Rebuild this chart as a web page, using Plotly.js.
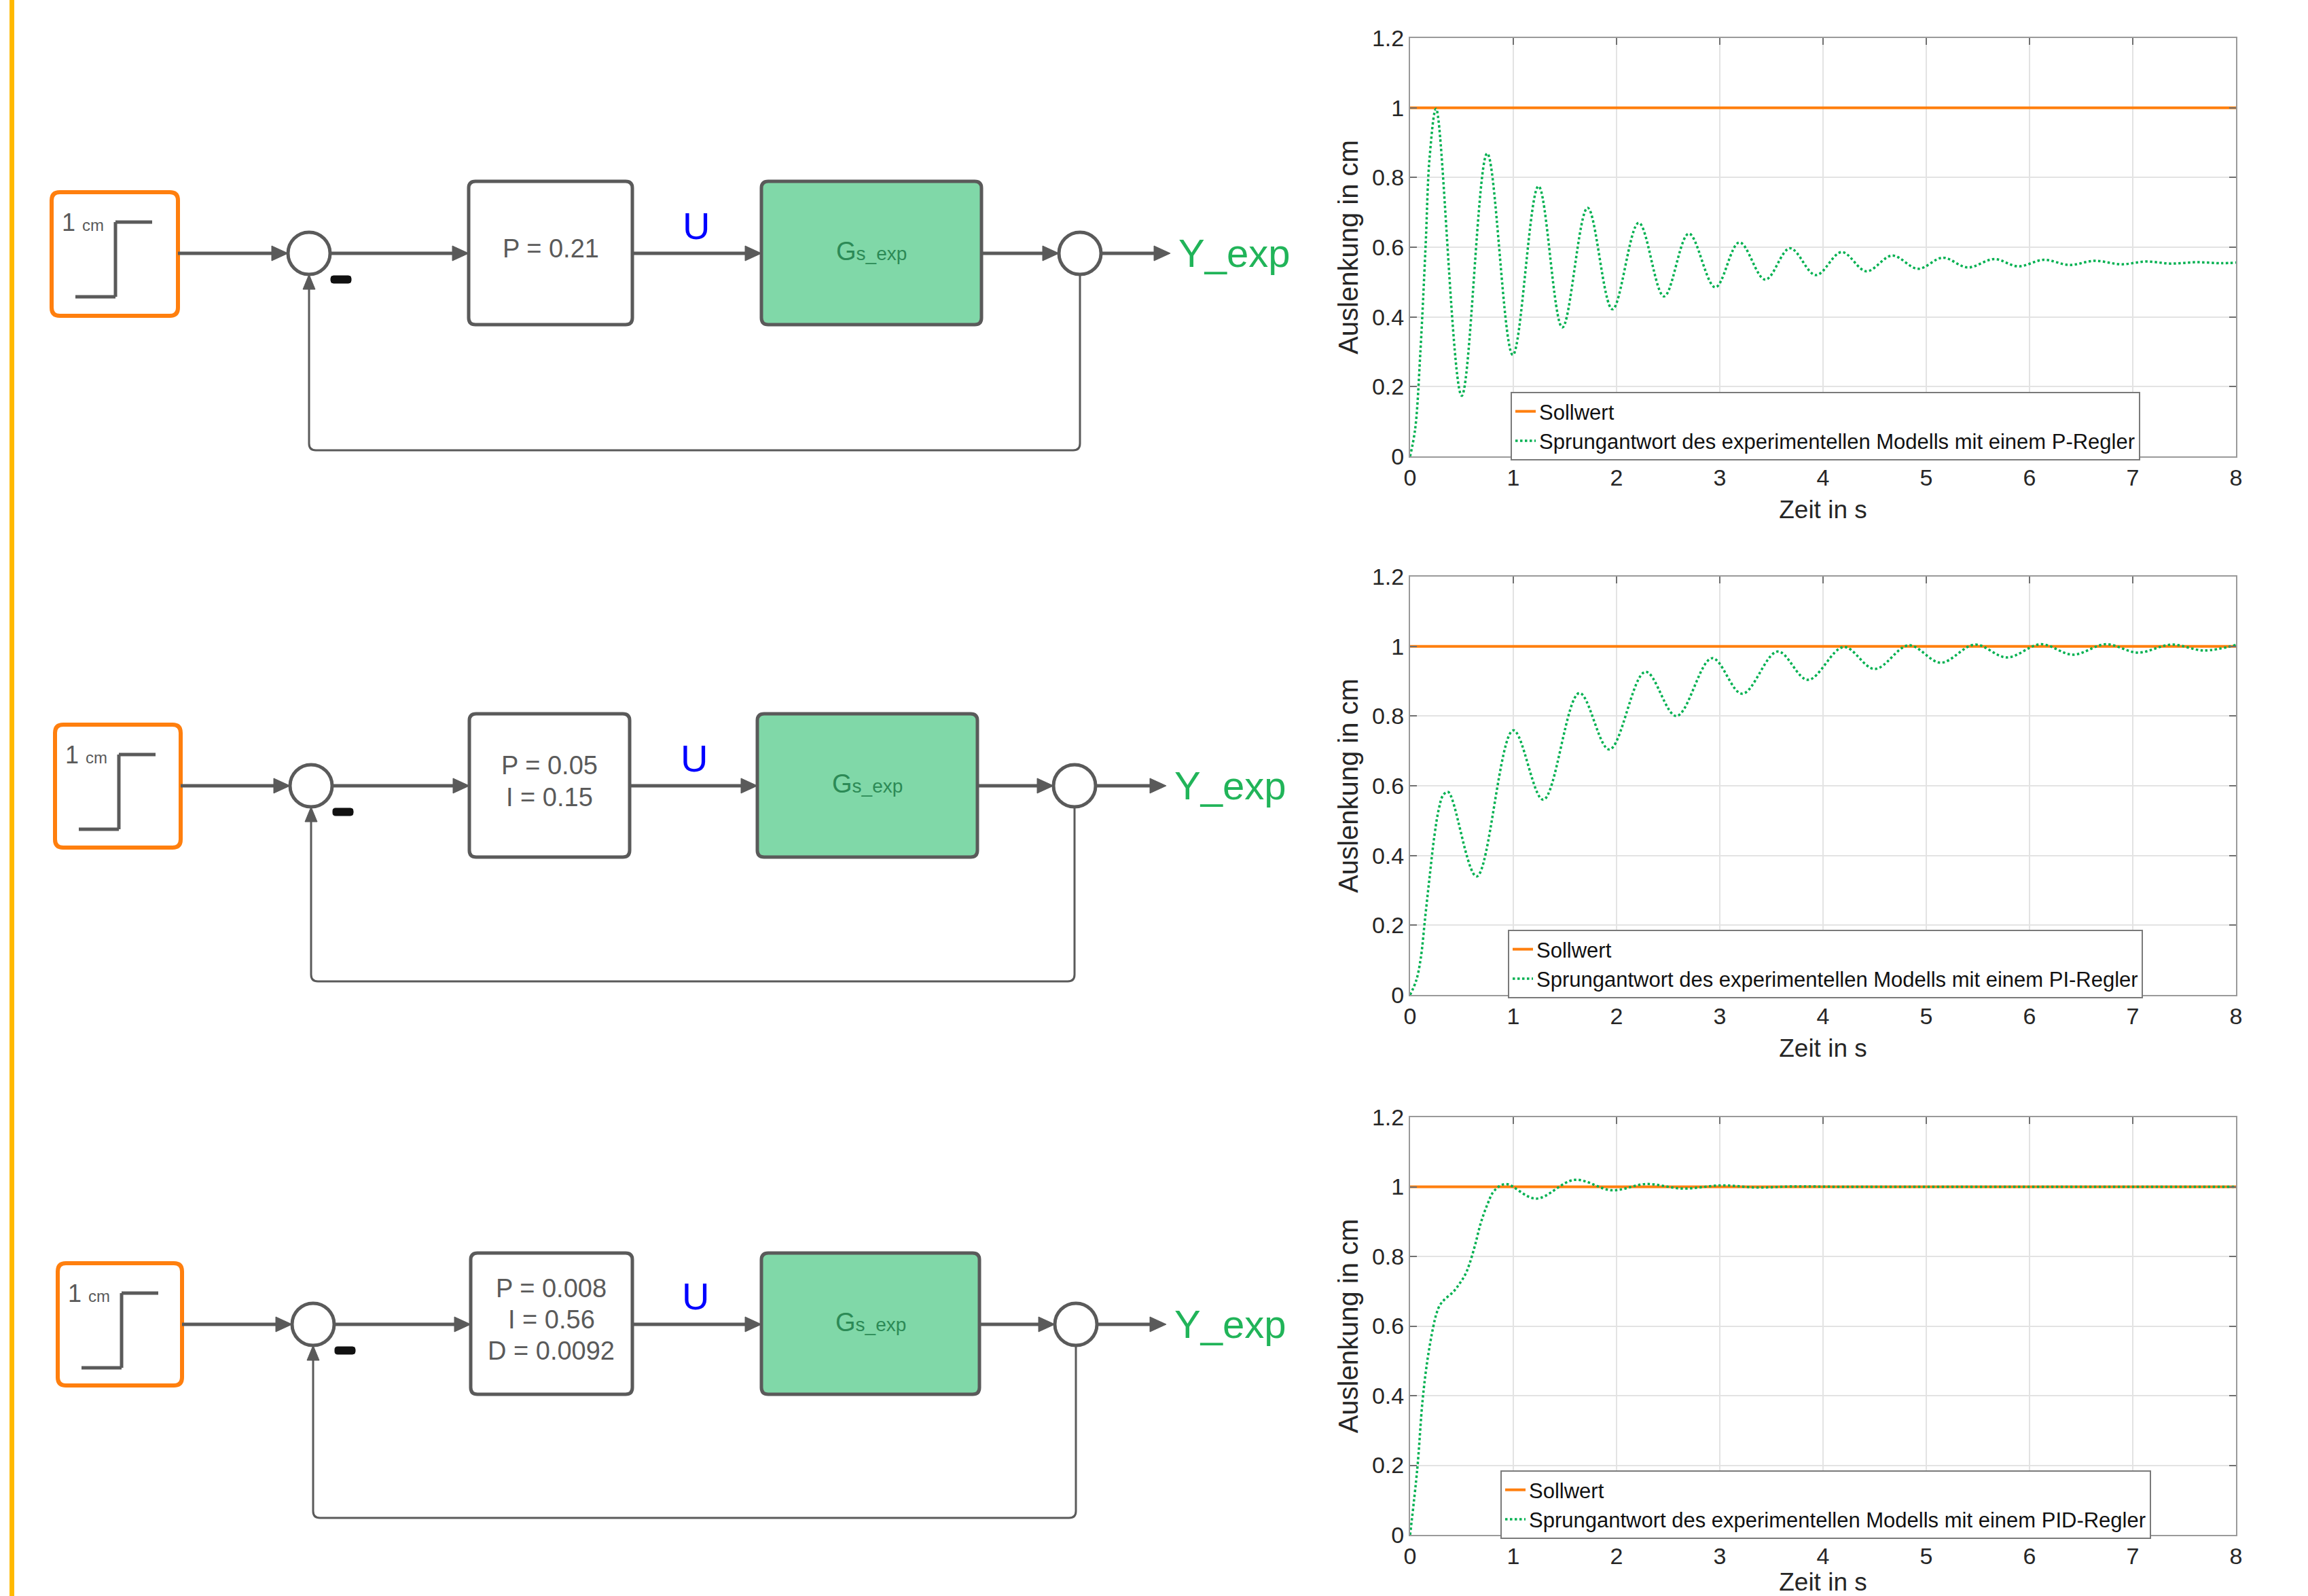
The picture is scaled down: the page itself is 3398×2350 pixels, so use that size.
<!DOCTYPE html>
<html>
<head>
<meta charset="utf-8">
<script src="https://cdn.plot.ly/plotly-3.0.1.min.js"></script>
<style>html,body{margin:0;padding:0;background:#fff;}#chart{width:3398px;height:2350px;}</style>
</head>
<body>
<div id="chart"></div>
<script>
// ---------------- DATA ----------------
const SOLL_T = [0, 8];
const SOLL_Y = [1, 1];

// P-Regler response
const P_T = [0, 0.05, 0.1, 0.15, 0.19, 0.252, 0.50, 0.747, 0.995, 1.244, 1.475, 1.72, 1.96, 2.215, 2.46, 2.70, 2.956, 3.19, 3.44, 3.68, 3.93, 4.18, 4.42, 4.67, 4.92, 5.16, 5.40, 5.66, 5.89, 6.14, 6.385, 6.63, 6.89, 7.13, 7.37, 7.62, 7.86, 8.0];
const P_Y = [0, 0.08, 0.30, 0.60, 0.86, 0.997, 0.174, 0.869, 0.291, 0.775, 0.370, 0.713, 0.422, 0.670, 0.459, 0.639, 0.485, 0.614, 0.507, 0.597, 0.520, 0.586, 0.531, 0.576, 0.538, 0.570, 0.542, 0.566, 0.545, 0.564, 0.549, 0.561, 0.551, 0.559, 0.553, 0.557, 0.554, 0.556];

// PI-Regler response
const PI_T = [0, 0.059, 0.103, 0.147, 0.191, 0.235, 0.279, 0.322, 0.37, 0.645, 1.0, 1.29, 1.64, 1.93, 2.28, 2.58, 2.925, 3.217, 3.56, 3.854, 4.20, 4.50, 4.83, 5.14, 5.47, 5.78, 6.11, 6.42, 6.74, 7.05, 7.375, 7.69, 8.0];
const PI_Y = [0, 0.041, 0.104, 0.224, 0.343, 0.455, 0.534, 0.574, 0.582, 0.340, 0.759, 0.560, 0.866, 0.704, 0.927, 0.800, 0.966, 0.864, 0.985, 0.904, 0.998, 0.935, 1.003, 0.953, 1.005, 0.968, 1.006, 0.976, 1.006, 0.982, 1.005, 0.988, 1.004];

// PID-Regler response
const PID_T = [0, 0.07, 0.121, 0.169, 0.224, 0.257, 0.289, 0.333, 0.421, 0.482, 0.531, 0.575, 0.629, 0.684, 0.75, 0.816, 0.925, 1.22, 1.594, 1.956, 2.285, 2.64, 3.02, 3.36, 3.70, 4.2, 5, 6, 7, 8];
const PID_Y = [0, 0.19, 0.386, 0.504, 0.597, 0.637, 0.660, 0.676, 0.699, 0.723, 0.746, 0.778, 0.832, 0.895, 0.950, 0.989, 1.008, 0.966, 1.020, 0.990, 1.008, 0.995, 1.004, 0.998, 1.001, 1.0, 1.0, 1.0, 1.0, 1.0];

const LEGEND_SOLL = 'Sollwert';
const LEGEND_RESP = ['Sprungantwort des experimentellen Modells mit einem P-Regler',
                     'Sprungantwort des experimentellen Modells mit einem PI-Regler',
                     'Sprungantwort des experimentellen Modells mit einem PID-Regler'];
const CTRL_LABELS = [['P = 0.21'], ['P = 0.05', 'I = 0.15'], ['P = 0.008', 'I = 0.56', 'D = 0.0092']];
const X_TITLE = 'Zeit in s';
const Y_TITLE = 'Auslenkung in cm';

// ---------------- LAYOUT HELPERS ----------------
const W = 3398, H = 2350;
const X = x => +(x / W).toFixed(6);
const Y = y => +(1 - y / H).toFixed(6);
const FONT = 'Liberation Sans, Arial, Helvetica, sans-serif';
const GRAY = '#5a5a5a';
const ORANGE = '#FF7F0E';
const GREEN_LINE = '#00B050';

const shapes = [];
const annotations = [];

function line(x0, y0, x1, y1, w, c) {
  shapes.push({type: 'line', xref: 'paper', yref: 'paper', x0: X(x0), y0: Y(y0), x1: X(x1), y1: Y(y1),
               line: {color: c || GRAY, width: w || 5}});
}
function rrect(x0, y0, x1, y1, r, fill, stroke, sw) {
  const p = `M ${X(x0 + r)} ${Y(y0)} L ${X(x1 - r)} ${Y(y0)} Q ${X(x1)} ${Y(y0)} ${X(x1)} ${Y(y0 + r)} ` +
            `L ${X(x1)} ${Y(y1 - r)} Q ${X(x1)} ${Y(y1)} ${X(x1 - r)} ${Y(y1)} ` +
            `L ${X(x0 + r)} ${Y(y1)} Q ${X(x0)} ${Y(y1)} ${X(x0)} ${Y(y1 - r)} ` +
            `L ${X(x0)} ${Y(y0 + r)} Q ${X(x0)} ${Y(y0)} ${X(x0 + r)} ${Y(y0)} Z`;
  shapes.push({type: 'path', xref: 'paper', yref: 'paper', path: p, fillcolor: fill,
               line: {color: stroke, width: sw}});
}
function arrowRight(xt, y, len, hw) {
  const p = `M ${X(xt)} ${Y(y)} L ${X(xt - len)} ${Y(y - hw)} L ${X(xt - len)} ${Y(y + hw)} Z`;
  shapes.push({type: 'path', xref: 'paper', yref: 'paper', path: p, fillcolor: GRAY, line: {color: GRAY, width: 1}});
}
function arrowUp(x, yt, len, hw) {
  const p = `M ${X(x)} ${Y(yt)} L ${X(x - hw)} ${Y(yt + len)} L ${X(x + hw)} ${Y(yt + len)} Z`;
  shapes.push({type: 'path', xref: 'paper', yref: 'paper', path: p, fillcolor: GRAY, line: {color: GRAY, width: 1}});
}
function circle(cx, cy, r) {
  shapes.push({type: 'circle', xref: 'paper', yref: 'paper', x0: X(cx - r), x1: X(cx + r), y0: Y(cy + r), y1: Y(cy - r),
               fillcolor: '#ffffff', line: {color: GRAY, width: 5}});
}
function text(x, y, t, size, color, xanchor) {
  annotations.push({xref: 'paper', yref: 'paper', x: X(x), y: Y(y), text: t, showarrow: false,
                    xanchor: xanchor || 'center', yanchor: 'middle',
                    font: {family: FONT, size: size, color: color}});
}

// gold bar on the left
shapes.push({type: 'rect', xref: 'paper', yref: 'paper', x0: X(14), x1: X(21), y0: 0, y1: 1,
             fillcolor: '#FFB900', line: {width: 0}});

// ---------------- BLOCK DIAGRAMS ----------------
const ROWS = [
  {yc: 373,  o: [76, 262, 283, 465],   c1: 455, P: [690, 931, 267, 478],   G: [1121, 1445, 267, 478],   c2: 1590, fb: 663,  Ux: 1025, Uy: 332,  Yx: 1733},
  {yc: 1157, o: [81, 266, 1067, 1248], c1: 458, P: [691, 927, 1051, 1262], G: [1115, 1439, 1051, 1262], c2: 1582, fb: 1445, Ux: 1022, Uy: 1117, Yx: 1727},
  {yc: 1950, o: [85, 268, 1860, 2040], c1: 461, P: [693, 931, 1845, 2053], G: [1121, 1442, 1845, 2053], c2: 1584, fb: 2235, Ux: 1024, Uy: 1909, Yx: 1727}
];
const R = 31;

ROWS.forEach((rw, i) => {
  const yc = rw.yc;
  // step source box
  rrect(rw.o[0], rw.o[2], rw.o[1], rw.o[3], 12, 'rgba(255,255,255,0)', ORANGE, 6);
  const ox = rw.o[0];
  const oy = rw.o[2];
  line(ox + 35, oy + 154, ox + 94, oy + 154, 5);
  line(ox + 94, oy + 154, ox + 94, oy + 44, 5);
  line(ox + 94, oy + 44, ox + 148, oy + 44, 5);
  annotations.push({xref: 'paper', yref: 'paper', x: X(ox + 13), y: Y(oy + 44), xanchor: 'left', yanchor: 'middle',
                    showarrow: false, text: '1 <span style="font-size:24px">cm</span>',
                    font: {family: FONT, size: 36, color: GRAY}});

  // source -> summing junction
  line(rw.o[1], yc, rw.c1 - R - 20, yc, 5);
  arrowRight(rw.c1 - R, yc, 24, 11);
  circle(rw.c1, yc, R);
  // minus sign
  rrect(rw.c1 + 32, yc + 33, rw.c1 + 62, yc + 44, 4, '#111111', '#111111', 1);

  // junction -> controller
  line(rw.c1 + R, yc, rw.P[0] - 20, yc, 5);
  arrowRight(rw.P[0], yc, 24, 11);
  rrect(rw.P[0], rw.P[2], rw.P[1], rw.P[3], 10, '#ffffff', GRAY, 5);
  const lab = CTRL_LABELS[i];
  const pc = (rw.P[0] + rw.P[1]) / 2;
  const pm = (rw.P[2] + rw.P[3]) / 2 - 6;
  lab.forEach((t, k) => {
    text(pc, pm + (k - (lab.length - 1) / 2) * 46, t, 38, GRAY);
  });

  // controller -> plant
  line(rw.P[1], yc, rw.G[0] - 20, yc, 5);
  arrowRight(rw.G[0], yc, 24, 11);
  text(rw.Ux, rw.Uy, 'U', 56, '#0000FF');
  rrect(rw.G[0], rw.G[2], rw.G[1], rw.G[3], 10, '#80D8A8', GRAY, 5);
  annotations.push({xref: 'paper', yref: 'paper', x: X((rw.G[0] + rw.G[1]) / 2), y: Y(yc - 3), xanchor: 'center', yanchor: 'middle',
                    showarrow: false, text: 'G<span style="font-size:28px">s_exp</span>',
                    font: {family: FONT, size: 38, color: '#2C8A56'}});

  // plant -> output junction
  line(rw.G[1], yc, rw.c2 - R - 20, yc, 5);
  arrowRight(rw.c2 - R, yc, 24, 11);
  circle(rw.c2, yc, R);
  line(rw.c2 + R, yc, rw.Yx - 30, yc, 5);
  arrowRight(rw.Yx - 10, yc, 24, 11);
  text(rw.Yx, yc, 'Y_exp', 58, '#21B459', 'left');

  // feedback path
  const rr = 10;
  const p = `M ${X(rw.c2)} ${Y(yc + R)} L ${X(rw.c2)} ${Y(rw.fb - rr)} Q ${X(rw.c2)} ${Y(rw.fb)} ${X(rw.c2 - rr)} ${Y(rw.fb)} ` +
            `L ${X(rw.c1 + rr)} ${Y(rw.fb)} Q ${X(rw.c1)} ${Y(rw.fb)} ${X(rw.c1)} ${Y(rw.fb - rr)} L ${X(rw.c1)} ${Y(yc + R + 18)}`;
  shapes.push({type: 'path', xref: 'paper', yref: 'paper', path: p, line: {color: GRAY, width: 3}});
  arrowUp(rw.c1, yc + R, 22, 9);
});

// ---------------- PLOTS ----------------
const XDOM = [X(2076), X(3292)];
const PLOT_Y = [[56, 672], [849, 1465], [1645, 2260]];
const RESP_T = [P_T, PI_T, PID_T];
const RESP_Y = [P_Y, PI_Y, PID_Y];
const LEG_POS = [[2224, 577], [2220, 1369], [2209, 2165]];

const traces = [];
const layout = {
  width: W, height: H,
  margin: {l: 0, r: 0, t: 0, b: 0},
  paper_bgcolor: '#ffffff',
  plot_bgcolor: '#ffffff',
  showlegend: true,
  font: {family: FONT, color: '#262626'},
  shapes: shapes,
  annotations: annotations
};

for (let i = 0; i < 3; i++) {
  const sfx = i === 0 ? '' : String(i + 1);
  const xa = 'x' + sfx, ya = 'y' + sfx, lg = 'legend' + sfx;
  traces.push({x: SOLL_T, y: SOLL_Y, xaxis: xa, yaxis: ya, type: 'scatter', mode: 'lines', name: LEGEND_SOLL,
               legend: lg, line: {color: ORANGE, width: 4}, hoverinfo: 'skip'});
  traces.push({x: RESP_T[i], y: RESP_Y[i], xaxis: xa, yaxis: ya, type: 'scatter', mode: 'lines', name: LEGEND_RESP[i],
               legend: lg, line: {color: GREEN_LINE, width: 3.5, dash: 'dot', shape: 'spline', smoothing: 1.0}, hoverinfo: 'skip'});

  const common = {
    showgrid: true, gridcolor: '#E3E3E3', gridwidth: 2,
    showline: true, linecolor: '#9a9a9a', linewidth: 2, mirror: 'allticks',
    ticks: 'inside', ticklen: 10, tickwidth: 2, tickcolor: '#707070',
    zeroline: false, tickfont: {family: FONT, size: 34, color: '#262626'}
  };
  layout['xaxis' + sfx] = Object.assign({}, common, {
    domain: XDOM, anchor: ya, range: [0, 8], dtick: 1, tick0: 0,
    title: {text: X_TITLE, font: {family: FONT, size: 37, color: '#262626'}, standoff: 16}
  });
  layout['yaxis' + sfx] = Object.assign({}, common, {
    domain: [Y(PLOT_Y[i][1]), Y(PLOT_Y[i][0])], anchor: xa, range: [0, 1.2], dtick: 0.2, tick0: 0,
    title: {text: Y_TITLE, font: {family: FONT, size: 40, color: '#262626'}, standoff: 8}
  });
  layout[lg] = {
    x: X(LEG_POS[i][0]), y: Y(LEG_POS[i][1]), xanchor: 'left', yanchor: 'top',
    xref: 'paper', yref: 'paper',
    bgcolor: '#ffffff', bordercolor: '#7a7a7a', borderwidth: 2,
    font: {family: FONT, size: 31, color: '#111111'},
    tracegroupgap: 0, itemwidth: 30
  };
}

Plotly.newPlot('chart', traces, layout, {staticPlot: true, displayModeBar: false});
</script>
</body>
</html>
